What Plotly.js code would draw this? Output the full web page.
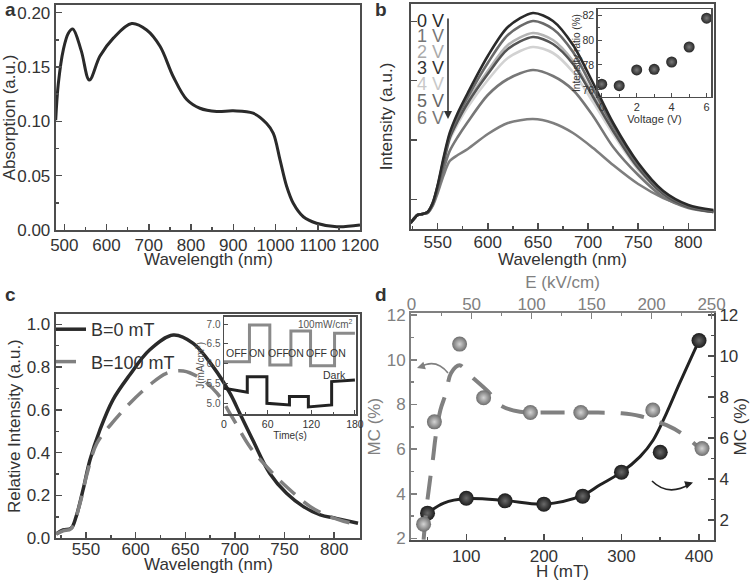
<!DOCTYPE html>
<html>
<head>
<meta charset="utf-8">
<script src="https://cdn.plot.ly/plotly-3.0.1.min.js"></script>
<style>
body { margin: 0; background: #fff; }
#plotArea { width: 750px; height: 581px; }
</style>
</head>
<body>
<div id="plotArea"></div>
<script>
// a - absorption spectrum
var wlA = [479.6, 485.9, 497.7, 509.5, 520, 540, 559.3, 584.5, 616, 659.5, 695, 726.6, 758, 789.8, 821, 860.8, 900, 947, 979, 994.8, 1010.7, 1026.5, 1042, 1065.8, 1097, 1145, 1200];
var absA = [0.101, 0.135, 0.166, 0.181, 0.185, 0.165, 0.138, 0.160, 0.1765, 0.190, 0.184, 0.169, 0.141, 0.120, 0.112, 0.109, 0.1096, 0.1075, 0.098, 0.089, 0.0645, 0.040, 0.0246, 0.0122, 0.0062, 0.003, 0.0046];

// b - PL under bias
var wlB = [523, 530, 535, 540, 545, 550, 556, 562, 570, 580, 600, 620, 645, 665, 685, 705, 725, 750, 775, 800, 825];
var int0V = [6, 14, 15, 17, 26, 44, 72, 96, 116, 136, 173, 202, 216, 208, 184, 146, 106, 66, 38, 24, 19];
var int1V = [6, 14, 15, 17, 26, 43, 70, 94, 113, 132, 166, 194, 208, 200, 177, 140, 103, 64, 37, 23, 18];
var int2V = [6, 14, 15, 17, 25, 42, 68, 92, 110, 128, 158, 184, 196, 189, 168, 134, 100, 62, 36, 22, 18];
var int3V = [6, 14, 15, 17, 25, 42, 67, 91, 108, 126, 155, 180, 192, 185, 165, 132, 98, 61, 35, 22, 17];
var int4V = [6, 14, 15, 17, 25, 41, 66, 89, 105, 122, 149, 171, 182, 176, 157, 127, 95, 59, 34, 22, 17];
var int5V = [6, 14, 15, 16, 24, 39, 60, 78, 92, 107, 134, 150, 159, 153, 139, 113, 82, 54, 32, 21, 17];
var int6V = [6, 14, 15, 16, 23, 36, 54, 68, 74, 80, 95, 106, 110, 106, 96, 81, 64, 45, 31, 22, 17];
var voltLabels = ['0 V', '1 V', '2 V', '3 V', '4 V', '5 V', '6 V'];

// b inset
var voltage = [0, 1, 2, 3, 4, 5, 6];
var ratio = [76.46, 76.34, 77.6, 77.65, 78.24, 79.44, 81.75];

// c - relative intensity
var wl0 = [520, 527, 535, 540, 547, 554, 564, 577, 594, 614, 638, 658, 678, 695, 705, 718, 735, 752, 769, 786, 802, 824];
var rel0 = [0.02, 0.039, 0.047, 0.10, 0.226, 0.366, 0.506, 0.646, 0.763, 0.88, 0.95, 0.911, 0.802, 0.678, 0.583, 0.459, 0.304, 0.21, 0.148, 0.109, 0.093, 0.07];
var wl100 = [520, 527, 535, 544, 551, 561, 579, 594, 614, 631, 648, 665, 682, 697, 715, 735, 752, 776, 796, 824];
var rel100 = [0.02, 0.035, 0.045, 0.164, 0.30, 0.444, 0.553, 0.63, 0.716, 0.771, 0.782, 0.748, 0.678, 0.568, 0.428, 0.319, 0.241, 0.148, 0.101, 0.062];

// c inset - current steps
var lightT = [0, 35, 35, 63, 63, 92, 92, 119, 119, 152, 152, 180];
var lightJ = [6.05, 6.05, 6.98, 6.98, 5.97, 5.97, 6.83, 6.83, 5.95, 5.95, 6.77, 6.77];
var darkT = [0, 32, 32, 59, 59, 90, 90, 116, 116, 148, 148, 180];
var darkJ = [5.38, 5.28, 5.67, 5.67, 5.00, 4.96, 5.17, 5.17, 4.91, 4.96, 5.55, 5.59];

// d - MC vs field
var eField = [10, 19, 40, 60, 99, 141, 201, 242];
var mcE = [2.64, 7.22, 10.70, 8.30, 7.64, 7.64, 7.75, 6.03];
var fitE = [10, 12.5, 15.3, 18, 20, 24, 28.6, 32.8, 40, 48.6, 63.9, 73.6, 90.3, 114.7, 144, 175, 190, 212.5, 225, 240];
var fitMcE = [1.95, 3.4, 4.6, 5.65, 6.55, 7.75, 8.5, 9.4, 9.75, 9.31, 8.57, 7.97, 7.67, 7.64, 7.64, 7.6, 7.48, 7.07, 6.7, 6.03];
var hField = [50, 100, 150, 200, 250, 300, 350, 400];
var mcH = [2.33, 3.06, 2.93, 2.77, 3.16, 4.33, 5.30, 10.75];
var fitH = [50, 71, 100, 150, 200, 250, 272, 300, 324, 341, 358, 375, 400];
var fitMcH = [2.33, 2.82, 3.04, 2.95, 2.77, 3.2, 3.7, 4.33, 5.09, 5.9, 7.2, 8.67, 10.75];

var W = 750, H = 581;
function xdom(l, r) { return [l / W, r / W]; }
function ydom(t, b) { return [1 - b / H, 1 - t / H]; }
function px(x) { return x / W; }
function py(y) { return 1 - y / H; }

var txt = '#333';
var gray = '#808080';
var axc = '#4d4d4d';

function frame(extra) {
    var ax = {
        showline: true, linecolor: axc, linewidth: 2, mirror: true,
        ticks: 'inside', ticklen: 6, tickwidth: 1.5, tickcolor: axc,
        showgrid: false, zeroline: false,
        tickfont: {size: 17, color: txt}
    };
    return Object.assign(ax, extra);
}
function ttl(text, size, color, standoff) {
    return {text: text, font: {size: size, color: color || txt}, standoff: standoff};
}

var data = [];

data.push({x: wlA, y: absA, xaxis: 'x', yaxis: 'y', mode: 'lines', line: {color: '#2a2a2a', width: 3, shape: 'spline'}, showlegend: false});

var bCurves = [int0V, int1V, int2V, int3V, int4V, int5V, int6V];
var bColors = ['#2a2a2a', '#6a6a6a', '#b4b4b4', '#555555', '#d2d2d2', '#777777', '#7e7e7e'];
// lighter ones first so the dark curves stay on top
[4, 2, 6, 5, 3, 1, 0].forEach(function (i) {
    data.push({x: wlB, y: bCurves[i], xaxis: 'x2', yaxis: 'y2', mode: 'lines', line: {color: bColors[i], width: 2.6, shape: 'spline', smoothing: 0.8}, showlegend: false});
});

data.push({x: voltage, y: ratio, xaxis: 'x3', yaxis: 'y3', mode: 'markers', marker: {size: 11, color: '#262626', gradient: {type: 'radial', color: '#7a7a7a'}}, showlegend: false});

data.push({x: wl0, y: rel0, xaxis: 'x4', yaxis: 'y4', mode: 'lines', name: 'B=0 mT', legendgroup: 'g0', line: {color: '#2a2a2a', width: 3.5, shape: 'spline'}});
data.push({x: wl100, y: rel100, xaxis: 'x4', yaxis: 'y4', mode: 'lines', name: 'B=100 mT', legendgroup: 'g1', line: {color: gray, width: 3.5, dash: '20px,11px', shape: 'spline'}});

data.push({x: lightT, y: lightJ, xaxis: 'x5', yaxis: 'y5', mode: 'lines', line: {color: '#8a8a8a', width: 3}, showlegend: false});
data.push({x: darkT, y: darkJ, xaxis: 'x5', yaxis: 'y5', mode: 'lines', line: {color: '#222', width: 3}, showlegend: false});

data.push({x: fitE, y: fitMcE, xaxis: 'x7', yaxis: 'y6', mode: 'lines', line: {color: gray, width: 4, dash: '24px,16px', shape: 'spline'}, showlegend: false});
data.push({x: eField, y: mcE, xaxis: 'x7', yaxis: 'y6', mode: 'markers', marker: {size: 15, color: '#6e6e6e', gradient: {type: 'radial', color: '#d4d4d4'}}, showlegend: false});
data.push({x: fitH, y: fitMcH, xaxis: 'x6', yaxis: 'y7', mode: 'lines', line: {color: '#222', width: 3, shape: 'spline'}, showlegend: false});
data.push({x: hField, y: mcH, xaxis: 'x6', yaxis: 'y7', mode: 'markers', marker: {size: 15, color: '#1c1c1c', gradient: {type: 'radial', color: '#6a6a6a'}}, showlegend: false});

var small = {ticklen: 4, tickwidth: 1, linewidth: 1.5};

var layout = {
    width: W, height: H,
    margin: {l: 0, r: 0, t: 0, b: 0},
    paper_bgcolor: '#fff', plot_bgcolor: 'rgba(0,0,0,0)',
    font: {family: 'Liberation Sans, Arial, sans-serif', color: txt},
    showlegend: true,
    legend: {x: px(51), y: py(311), xanchor: 'left', yanchor: 'top', bgcolor: 'rgba(0,0,0,0)', font: {size: 18, color: txt}, tracegroupgap: 6, itemwidth: 30},

    xaxis: frame({domain: xdom(55.7, 360), anchor: 'y', range: [479.6, 1200], tick0: 0, dtick: 100, ticklabelstandoff: -1,
        minor: {ticks: 'inside', ticklen: 3, dtick: 50, tickcolor: axc}}),
    yaxis: frame({domain: ydom(5, 230), anchor: 'x', range: [0, 0.207], dtick: 0.05, tickformat: '.2f',
        minor: {ticks: 'inside', ticklen: 3, dtick: 0.025, tickcolor: axc}, title: ttl('Absorption (a.u.)', 17, txt, 2)}),

    xaxis2: frame({domain: xdom(411, 714), anchor: 'y2', range: [523.4, 825.6], tick0: 0, dtick: 50, ticklabelstandoff: -3,
        minor: {ticks: 'inside', ticklen: 3, dtick: 25, tickcolor: axc}}),
    yaxis2: frame({domain: ydom(4, 229), anchor: 'x2', range: [0, 225], tick0: 29.7, dtick: 59.3, showticklabels: false,
        title: ttl('Intensity (a.u.)', 17, txt, 12)}),

    xaxis3: frame(Object.assign({domain: xdom(597.7, 711), anchor: 'y3', range: [-0.23, 6.25], dtick: 2,
        minor: {ticks: 'inside', ticklen: 2.5, dtick: 1, tickcolor: axc}, tickfont: {size: 11, color: txt},
        title: ttl('Voltage (V)', 11, txt, 0)}, small)),
    yaxis3: frame(Object.assign({domain: ydom(9.3, 96.7), anchor: 'x3', range: [75.46, 82.46], tick0: 76, dtick: 2,
        minor: {ticks: 'inside', ticklen: 2.5, dtick: 1, tickcolor: axc}, tickfont: {size: 10.5, color: txt},
        title: ttl('Intensity ratio (%)', 10, txt, 0)}, small)),

    xaxis4: frame({domain: xdom(55.7, 360), anchor: 'y4', range: [519.5, 826], tick0: 0, dtick: 50, ticklabelstandoff: -6,
        minor: {ticks: 'inside', ticklen: 3, dtick: 25, tickcolor: axc}}),
    yaxis4: frame({domain: ydom(314, 538.3), anchor: 'x4', range: [0, 1.048], dtick: 0.2, tickformat: '.1f',
        minor: {ticks: 'inside', ticklen: 3, dtick: 0.1, tickcolor: axc}, title: ttl('Relative Intensity (a.u.)', 17, txt, 2)}),

    xaxis5: frame(Object.assign({domain: xdom(224, 356), anchor: 'y5', range: [0, 181.5], dtick: 60,
        minor: {ticks: 'inside', ticklen: 2.5, dtick: 30, tickcolor: axc}, tickfont: {size: 10.5, color: txt},
        title: ttl('Time(s)', 10, txt, 0)}, small)),
    yaxis5: frame(Object.assign({domain: ydom(316.7, 414), anchor: 'x5', range: [4.73, 7.19], tick0: 5, dtick: 0.5, tickformat: '.1f',
        tickfont: {size: 10, color: '#555'}, title: ttl('J(mA/cm<sup>2</sup>)', 10, '#555', 0)}, small)),

    xaxis6: frame({domain: xdom(411, 714), anchor: 'y6', mirror: false, range: [28.7, 419.3], dtick: 100,
        minor: {ticks: 'inside', ticklen: 3, dtick: 50, tickcolor: axc}, title: ttl('H (mT)', 17, txt, 0)}),
    yaxis6: frame({domain: ydom(313.3, 540), anchor: 'x6', mirror: false, range: [1.93, 12.08], dtick: 2,
        linecolor: gray, tickcolor: gray, tickfont: {size: 17, color: gray},
        minor: {ticks: 'inside', ticklen: 3, dtick: 1, tickcolor: gray}, title: ttl('MC (%)', 17, gray, 2)}),
    xaxis7: frame({overlaying: 'x6', side: 'top', anchor: 'y6', mirror: false, range: [-0.5, 252], dtick: 50, ticklabelstandoff: -5,
        linecolor: gray, tickcolor: gray, tickfont: {size: 17, color: gray},
        minor: {ticks: 'inside', ticklen: 3, dtick: 25, tickcolor: gray}, title: ttl('E (kV/cm)', 17, gray, 2)}),
    yaxis7: frame({overlaying: 'y6', side: 'right', anchor: 'x6', mirror: false, range: [1.02, 12.08], dtick: 2,
        minor: {ticks: 'inside', ticklen: 3, dtick: 1, tickcolor: axc}, title: ttl('MC (%)', 17, txt, 2)}),

    annotations: [],
    shapes: []
};

var ann = layout.annotations;
function label(x, y, text, size, color, extra) {
    ann.push(Object.assign({xref: 'paper', yref: 'paper', x: px(x), y: py(y), xanchor: 'center', yanchor: 'middle',
        text: text, showarrow: false, font: {size: size, color: color || txt}}, extra || {}));
}

// panel letters
label(10, 10, '<b>a</b>', 19);
label(381, 10, '<b>b</b>', 19);
label(10, 294, '<b>c</b>', 19);
label(381, 294, '<b>d</b>', 19);

// x titles of a, b, c
label(208, 259, 'Wavelength (nm)', 17);
label(562, 259, 'Wavelength (nm)', 17);
label(208, 564, 'Wavelength (nm)', 17);

// b voltage labels
var labelColors = ['#2a2a2a', '#777', '#aaa', '#333', '#c8c8c8', '#666', '#777'];
var labelY = [21, 36, 52, 68, 84, 101, 118];
voltLabels.forEach(function (t, i) {
    label(415, labelY[i], t, 18, labelColors[i], {xanchor: 'left'});
});
ann.push({xref: 'paper', yref: 'paper', x: px(448), y: py(119), ax: 0, ay: -102, text: '', showarrow: true,
    arrowhead: 2, arrowsize: 1, arrowwidth: 1.6, arrowcolor: '#333'});

// c inset texts
label(325, 324, '100mW/cm<sup>2</sup>', 10, '#555');
label(334, 375, 'Dark', 10.5, '#333');
var onOffX = [236, 257, 278, 296, 316, 338];
var onOffT = ['OFF', 'ON', 'OFF', 'ON', 'OFF', 'ON'];
onOffT.forEach(function (t, i) { label(onOffX[i], 353, t, 10.5, '#333'); });

// d curved arrows
layout.shapes.push({type: 'path', xref: 'paper', yref: 'paper', layer: 'above',
    path: 'M ' + px(448) + ' ' + py(373) + ' Q ' + px(436) + ' ' + py(358) + ' ' + px(420) + ' ' + py(367),
    line: {color: gray, width: 1.6}});
ann.push({xref: 'paper', yref: 'paper', x: px(417), y: py(368), ax: 6, ay: -2, text: '', showarrow: true,
    arrowhead: 2, arrowsize: 1, arrowwidth: 1.6, arrowcolor: gray});
layout.shapes.push({type: 'path', xref: 'paper', yref: 'paper', layer: 'above',
    path: 'M ' + px(652) + ' ' + py(481) + ' Q ' + px(668) + ' ' + py(497) + ' ' + px(690) + ' ' + py(484),
    line: {color: '#222', width: 1.6}});
ann.push({xref: 'paper', yref: 'paper', x: px(693), y: py(482.5), ax: -6, ay: 2, text: '', showarrow: true,
    arrowhead: 2, arrowsize: 1, arrowwidth: 1.6, arrowcolor: '#222'});

Plotly.newPlot('plotArea', data, layout, {displayModeBar: false, staticPlot: true});
</script>
</body>
</html>
